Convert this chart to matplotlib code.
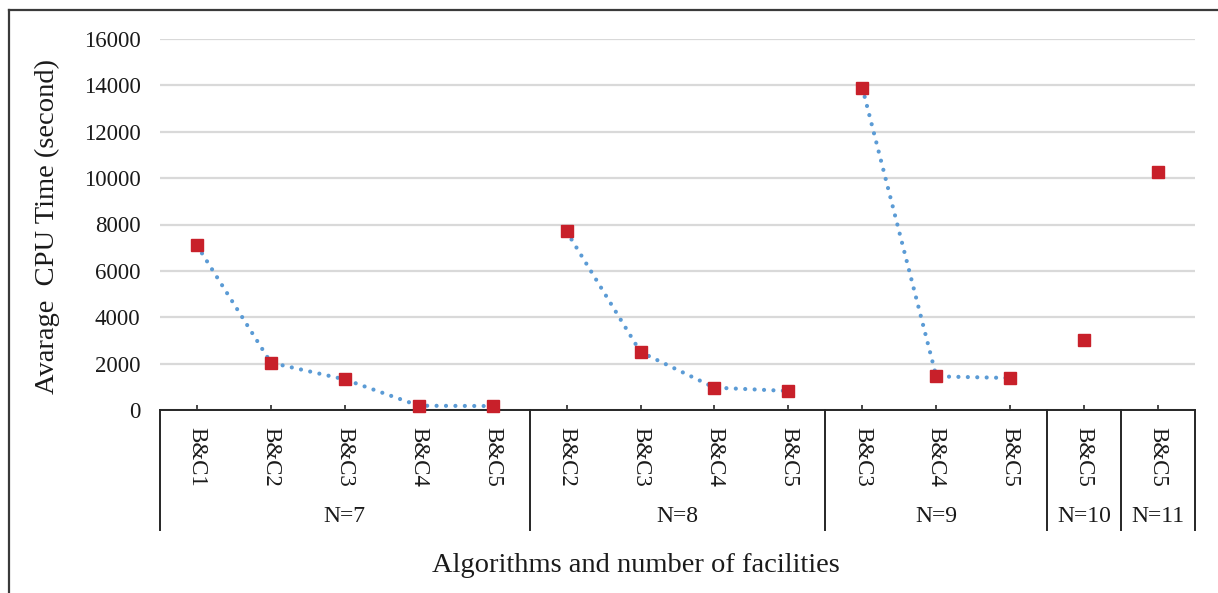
import matplotlib
matplotlib.use("Agg")
import matplotlib.pyplot as plt
from matplotlib.lines import Line2D
import matplotlib.transforms as mtransforms

plt.rcParams['font.family'] = ['Liberation Serif', 'DejaVu Serif']

# Facility counts (outer category level) and algorithms run for each
groups = ["N=7", "N=8", "N=9", "N=10", "N=11"]
algorithms = [
    ["B&C1", "B&C2", "B&C3", "B&C4", "B&C5"],
    ["B&C2", "B&C3", "B&C4", "B&C5"],
    ["B&C3", "B&C4", "B&C5"],
    ["B&C5"],
    ["B&C5"],
]
# Average CPU time in seconds for each algorithm within each group
cpu_times = [
    [7100, 2040, 1320, 185, 170],
    [7700, 2500, 965, 820],
    [13900, 1450, 1380],
    [3020],
    [10280],
]
y_ticks = [0, 2000, 4000, 6000, 8000, 10000, 12000, 14000, 16000]

W, H = 1218, 593
fig = plt.figure(figsize=(W / 100, H / 100), dpi=100)
ax = fig.add_axes([160 / W, 1 - 410 / H, (1195 - 160) / W, 371 / H])

text_color = "#1a1a1a"
line_color = "#5B9BD5"
marker_color = "#C8202A"

n_total = sum(len(a) for a in algorithms)
ax.set_xlim(-0.5, n_total - 0.5)
ax.set_ylim(y_ticks[0], y_ticks[-1])

# Each group is drawn as its own dotted series so lines don't bridge groups
start = 0
for algs, vals in zip(algorithms, cpu_times):
    xs = list(range(start, start + len(algs)))
    ax.plot(xs, vals, linestyle=(0, (0.01, 2.25)), dash_capstyle="round",
            color=line_color, linewidth=3.0, zorder=3, clip_on=False)
    ax.plot(xs, vals, linestyle="none", marker="s", markersize=8.2,
            markerfacecolor=marker_color, markeredgecolor=marker_color,
            zorder=4, clip_on=False)
    start += len(algs)

# Axis styling
for side in ("left", "right", "top"):
    ax.spines[side].set_visible(False)
ax.spines["bottom"].set_color("#262626")
ax.spines["bottom"].set_linewidth(1.4)
ax.set_yticks(y_ticks)
ax.set_yticklabels([str(v) for v in y_ticks], fontsize=16.5, color=text_color)
ax.tick_params(axis="y", length=0, pad=14)
ax.yaxis.grid(True, color="#D9D9D9", linewidth=1.6)
ax.set_axisbelow(True)

ax.set_xticks(range(n_total))
ax.set_xticklabels([])
ax.tick_params(axis="x", direction="in", length=3.8, width=1.2, color="#262626")

# Multi-level category labels below the axis
trans = mtransforms.blended_transform_factory(ax.transData, ax.transAxes)
sep_depth = -120 / 371
start = 0
boundaries = [-0.5]
for g, algs in zip(groups, algorithms):
    for i, a in enumerate(algs):
        ax.text(start + i, -17 / 371, a, transform=trans, rotation=-90,
                ha="center", va="top", fontsize=16.5, color=text_color)
    mid = start + (len(algs) - 1) / 2
    ax.text(mid, -107 / 371, g, transform=trans, ha="center", va="center",
            fontsize=17, color=text_color)
    start += len(algs)
    boundaries.append(start - 0.5)

for b in boundaries:
    ax.plot([b, b], [0, sep_depth], transform=trans, color="#262626",
            linewidth=1.4, clip_on=False)

# Axis titles
fig.text(636 / W, 1 - 565 / H, "Algorithms and number of facilities",
         ha="center", va="center", fontsize=20.5, color=text_color)
fig.text(47 / W, 1 - 226 / H, "Avarage  CPU Time (second)", rotation=90,
         ha="center", va="center", fontsize=20.5, color=text_color)

# Chart frame (top and left edges)
fig.add_artist(Line2D([9 / W, 1.01], [1 - 10 / H, 1 - 10 / H],
                      transform=fig.transFigure, color="#3a3a3a", linewidth=1.6))
fig.add_artist(Line2D([9 / W, 9 / W], [1 - 10 / H, -0.01],
                      transform=fig.transFigure, color="#3a3a3a", linewidth=1.6))

fig.savefig("out.png", dpi=100)
